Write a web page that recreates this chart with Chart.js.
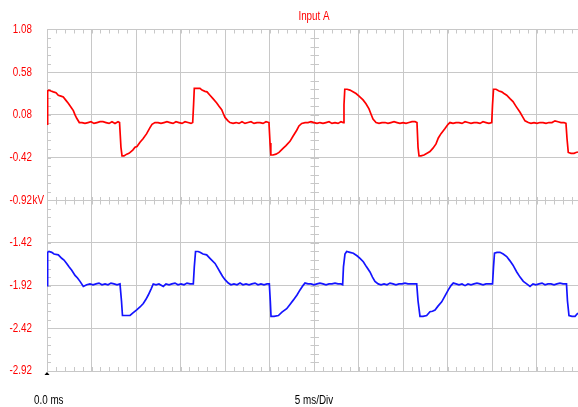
<!DOCTYPE html>
<html>
<head>
<meta charset="utf-8">
<script src="https://cdn.jsdelivr.net/npm/chart.js@4.4.1/dist/chart.umd.min.js"></script>
<style>
html,body{margin:0;padding:0;background:#fff;overflow:hidden;width:578px;height:407px;}
#wrap{position:absolute;left:0;top:0;width:600px;height:407px;}
</style>
</head>
<body>
<div id="wrap"><canvas id="c" width="600" height="407"></canvas></div>
<script>
// ---- data ----
const titleText = "Input A";
const yUnit = "kV";
const xStartLabel = "0.0 ms";
const xDivLabel = "5 ms/Div";
const yTickValues = [-2.92, -2.42, -1.92, -1.42, -0.92, -0.42, 0.08, 0.58, 1.08];
const xTickValues = [0, 5, 10, 15, 20, 25, 30, 35, 40, 45, 50, 55, 60];

const redTimes = [0.00,0.07,0.22,0.45,0.71,1.01,1.27,1.57,1.83,2.13,2.39,2.70,2.96,3.15,3.34,3.63,
3.93,4.27,4.61,4.94,5.28,5.62,5.96,6.29,6.63,6.97,7.30,7.64,7.98,8.15,
8.31,8.43,8.65,8.96,9.21,9.44,9.66,9.89,10.11,10.45,10.79,11.20,11.57,11.80,12.13,
12.47,12.81,13.15,13.48,13.82,14.16,14.49,14.83,15.17,15.51,15.84,16.18,16.37,
16.47,16.55,16.85,17.19,17.42,17.75,17.98,18.31,18.65,19.07,19.33,19.63,19.83,20.00,20.34,20.56,
20.90,21.24,21.57,21.91,22.25,22.58,22.92,23.26,23.60,23.93,24.27,24.61,24.94,
25.06,25.15,25.39,25.73,26.07,26.55,26.85,27.30,27.64,28.06,28.31,28.62,
29.00,29.33,29.66,30.00,30.34,30.67,31.01,31.35,31.69,32.02,32.36,32.70,33.03,33.29,
33.37,33.46,33.71,34.04,34.38,34.72,35.06,35.51,35.84,36.18,36.40,36.63,36.97,
37.30,37.64,37.98,38.31,38.65,38.99,39.33,39.66,40.00,40.34,40.67,41.01,41.35,41.57,
41.69,41.80,42.02,42.36,42.70,43.03,43.37,43.71,43.97,44.27,44.72,45.06,45.28,
45.62,45.96,46.29,46.63,46.97,47.30,47.64,47.98,48.31,48.65,48.99,49.33,49.66,49.97,
50.06,50.17,50.45,50.79,51.09,51.35,51.65,52.02,52.36,52.70,53.15,53.43,53.71,54.08,
54.38,54.72,55.06,55.39,55.73,56.07,56.40,56.74,57.08,57.42,57.75,58.09,58.31,
58.43,58.57,58.88,59.21,59.44,59.66];
const redValues = [-0.03,0.36,0.37,0.36,0.35,0.34,0.31,0.30,0.29,0.25,0.215,0.17,0.13,0.08,0.04,-0.01,
-0.01,-0.02,-0.01,0.00,-0.02,-0.01,0.00,0.00,-0.01,-0.02,0.00,-0.02,0.00,-0.01,
-0.30,-0.40,-0.40,-0.38,-0.37,-0.35,-0.33,-0.30,-0.29,-0.24,-0.20,-0.14,-0.07,-0.03,-0.01,
-0.01,-0.02,-0.01,0.00,-0.01,-0.02,0.00,-0.01,-0.02,0.00,-0.01,-0.02,-0.01,
0.20,0.39,0.39,0.39,0.37,0.355,0.35,0.31,0.27,0.22,0.18,0.14,0.09,0.05,0.01,-0.01,
-0.02,-0.01,-0.02,0.00,-0.02,-0.01,0.00,-0.02,-0.01,-0.01,-0.02,0.00,-0.01,
-0.25,-0.39,-0.39,-0.38,-0.36,-0.31,-0.28,-0.23,-0.17,-0.10,-0.05,-0.02,
-0.01,-0.01,0.00,-0.01,-0.02,-0.01,-0.02,-0.01,0.00,-0.02,-0.01,-0.02,0.00,-0.01,
0.20,0.38,0.38,0.37,0.35,0.33,0.30,0.255,0.21,0.15,0.09,0.03,-0.01,
-0.02,-0.01,-0.01,-0.02,-0.01,0.00,-0.01,-0.02,-0.01,-0.02,-0.01,0.00,0.00,-0.01,
-0.30,-0.40,-0.40,-0.39,-0.37,-0.35,-0.31,-0.26,-0.19,-0.14,-0.08,-0.03,-0.01,
-0.02,-0.01,-0.01,-0.02,0.00,-0.01,-0.02,-0.01,-0.01,-0.02,0.00,-0.01,-0.02,-0.01,
0.20,0.38,0.38,0.36,0.35,0.33,0.31,0.27,0.235,0.18,0.11,0.06,0.01,-0.01,
-0.02,-0.01,-0.02,-0.01,-0.01,-0.02,-0.01,-0.01,0.01,0.00,-0.01,-0.01,-0.02,
-0.20,-0.36,-0.37,-0.37,-0.36,-0.355];

const blueTimes = [0.00,0.07,0.22,0.53,0.79,1.27,1.65,1.91,2.21,2.47,2.78,3.15,3.43,3.71,4.08,4.46,
4.83,5.17,5.51,5.84,6.18,6.52,6.85,7.19,7.53,7.87,8.20,
8.37,8.48,8.88,9.33,9.66,10.08,10.45,10.82,11.12,11.38,11.69,11.94,
12.25,12.58,13.07,13.37,13.71,14.04,14.38,14.72,15.06,15.39,15.73,16.07,16.44,
16.55,16.69,16.97,17.19,17.53,17.94,18.31,18.88,19.16,19.44,19.72,20.00,20.37,20.67,
21.01,21.35,21.69,22.02,22.36,22.70,23.03,23.37,23.71,24.04,24.38,24.72,24.98,
25.09,25.17,25.51,26.00,26.40,26.93,27.30,27.67,28.09,28.43,28.76,28.99,
29.33,29.66,30.00,30.34,30.67,31.01,31.35,31.69,32.02,32.36,32.70,33.03,33.22,
33.31,33.48,33.67,34.04,34.42,34.83,35.17,35.54,35.90,36.29,36.57,36.85,37.21,
37.53,37.87,38.20,38.54,38.88,39.21,39.55,39.89,40.22,40.56,40.90,41.24,41.54,
41.69,41.91,42.25,42.66,43.03,43.31,43.60,43.93,44.35,44.72,45.09,45.39,45.65,
45.96,46.29,46.63,46.97,47.30,47.64,47.98,48.31,48.65,48.99,49.33,49.66,50.06,
50.17,50.28,50.56,50.90,51.26,51.65,52.02,52.36,52.78,53.15,53.52,53.90,54.27,
54.61,54.94,55.28,55.62,55.96,56.29,56.63,56.97,57.30,57.64,57.98,58.37,
58.48,58.65,58.99,59.33,59.66];
const blueValues = [-1.92,-1.53,-1.52,-1.53,-1.55,-1.56,-1.60,-1.62,-1.66,-1.70,-1.74,-1.80,-1.83,-1.87,-1.93,-1.91,
-1.90,-1.91,-1.90,-1.89,-1.91,-1.90,-1.91,-1.89,-1.90,-1.91,-1.90,
-2.10,-2.27,-2.27,-2.27,-2.24,-2.205,-2.17,-2.13,-2.08,-2.03,-1.96,-1.90,
-1.91,-1.90,-1.93,-1.90,-1.91,-1.90,-1.89,-1.91,-1.90,-1.91,-1.89,-1.90,-1.90,
-1.70,-1.52,-1.52,-1.53,-1.55,-1.56,-1.60,-1.66,-1.71,-1.76,-1.81,-1.85,-1.89,-1.91,
-1.90,-1.91,-1.89,-1.91,-1.90,-1.91,-1.90,-1.89,-1.91,-1.90,-1.91,-1.90,-1.90,
-2.10,-2.28,-2.28,-2.27,-2.23,-2.19,-2.14,-2.09,-2.03,-1.97,-1.92,-1.89,
-1.90,-1.90,-1.91,-1.90,-1.89,-1.90,-1.91,-1.90,-1.90,-1.89,-1.90,-1.90,-1.91,
-1.70,-1.55,-1.52,-1.53,-1.54,-1.57,-1.60,-1.64,-1.70,-1.76,-1.82,-1.87,-1.90,
-1.91,-1.90,-1.91,-1.89,-1.90,-1.91,-1.90,-1.90,-1.89,-1.90,-1.90,-1.90,-1.90,
-2.10,-2.28,-2.28,-2.27,-2.225,-2.22,-2.205,-2.16,-2.11,-2.04,-1.97,-1.92,-1.89,
-1.90,-1.91,-1.90,-1.92,-1.90,-1.91,-1.90,-1.89,-1.90,-1.91,-1.90,-1.90,-1.90,
-1.70,-1.54,-1.53,-1.53,-1.55,-1.58,-1.63,-1.68,-1.76,-1.82,-1.87,-1.90,-1.93,
-1.90,-1.91,-1.90,-1.89,-1.91,-1.90,-1.90,-1.91,-1.90,-1.89,-1.90,-1.90,
-2.10,-2.27,-2.28,-2.28,-2.24];

// ---- chart ----
const FONT = "'Liberation Sans', Arial, sans-serif";
const GRID = 'rgb(200,200,200)';
const RED = 'rgb(255,0,0)';
const NARROW = 0.82;

const toXY = (ts, vs) => ts.map((t, i) => ({x: t, y: vs[i]}));

function narrowText(ctx, text, x, y, align) {
  ctx.save();
  ctx.translate(x, y);
  ctx.scale(NARROW, 1);
  ctx.textAlign = align;
  ctx.fillText(text, 0, 0);
  ctx.restore();
}

const decorPlugin = {
  id: 'decor',
  beforeDatasetsDraw(chart) {
    const {ctx, chartArea: a, scales: {x, y}} = chart;
    ctx.save();
    ctx.strokeStyle = GRID;
    ctx.lineWidth = 1;
    ctx.beginPath();
    const yc = Math.round(y.getPixelForValue(-0.92)) + 0.5;
    const xc = Math.round(x.getPixelForValue(30)) + 0.5;
    for (let t = x.min; t <= x.max + 1e-6; t += 1) {
      const px = Math.round(x.getPixelForValue(t)) + 0.5;
      ctx.moveTo(px, a.top); ctx.lineTo(px, a.top + 4);
      ctx.moveTo(px, a.bottom); ctx.lineTo(px, a.bottom - 4);
      ctx.moveTo(px, yc - 3.5); ctx.lineTo(px, yc + 4);
    }
    for (let v = y.min; v <= y.max + 1e-6; v += 0.1) {
      const py = Math.round(y.getPixelForValue(v)) + 0.5;
      ctx.moveTo(a.left, py); ctx.lineTo(a.left + 4, py);
      ctx.moveTo(xc - 4, py); ctx.lineTo(xc + 4.5, py);
    }
    ctx.stroke();
    ctx.restore();
  },
  afterDraw(chart) {
    const {ctx, chartArea: a, scales: {x, y}} = chart;
    ctx.save();
    ctx.font = "12px " + FONT;
    ctx.textBaseline = 'middle';
    ctx.fillStyle = RED;
    // y tick labels
    yTickValues.forEach(v => {
      narrowText(ctx, v.toFixed(2), 32, y.getPixelForValue(v), 'right');
    });
    narrowText(ctx, yUnit, 32.5, y.getPixelForValue(-0.92), 'left');
    // title
    narrowText(ctx, titleText, x.getPixelForValue(30), 16.5, 'center');
    // bottom labels
    ctx.fillStyle = '#000';
    narrowText(ctx, xStartLabel, 34, 400.5, 'left');
    narrowText(ctx, xDivLabel, x.getPixelForValue(30), 400.5, 'center');
    // start marker
    const px = x.getPixelForValue(0);
    ctx.beginPath();
    ctx.moveTo(px, a.bottom + 1);
    ctx.lineTo(px + 2.5, a.bottom + 4);
    ctx.lineTo(px - 2.5, a.bottom + 4);
    ctx.closePath();
    ctx.fill();
    ctx.restore();
  }
};

new Chart(document.getElementById('c'), {
  type: 'line',
  data: {
    datasets: [
      {data: toXY(blueTimes, blueValues), borderColor: 'rgb(20,20,255)', borderWidth: 1.7, pointRadius: 0, tension: 0, fill: false},
      {data: toXY(redTimes, redValues), borderColor: RED, borderWidth: 1.7, pointRadius: 0, tension: 0, fill: false}
    ]
  },
  options: {
    responsive: false,
    animation: false,
    events: [],
    layout: {padding: {left: 0, top: 29.5, right: 19, bottom: 0}},
    plugins: {legend: {display: false}, tooltip: {enabled: false}, title: {display: false}},
    scales: {
      x: {
        type: 'linear', min: 0, max: 60,
        afterBuildTicks: s => { s.ticks = xTickValues.map(v => ({value: v})); },
        afterFit: s => { s.height = 36; },
        ticks: {display: false},
        grid: {color: GRID, lineWidth: 1, drawTicks: false},
        border: {display: false}
      },
      y: {
        type: 'linear', min: -2.92, max: 1.08,
        afterBuildTicks: s => { s.ticks = yTickValues.map(v => ({value: v})); },
        afterFit: s => { s.width = 47; },
        ticks: {display: false},
        grid: {color: GRID, lineWidth: 1, drawTicks: false},
        border: {display: false}
      }
    }
  },
  plugins: [decorPlugin]
});
</script>
</body>
</html>
